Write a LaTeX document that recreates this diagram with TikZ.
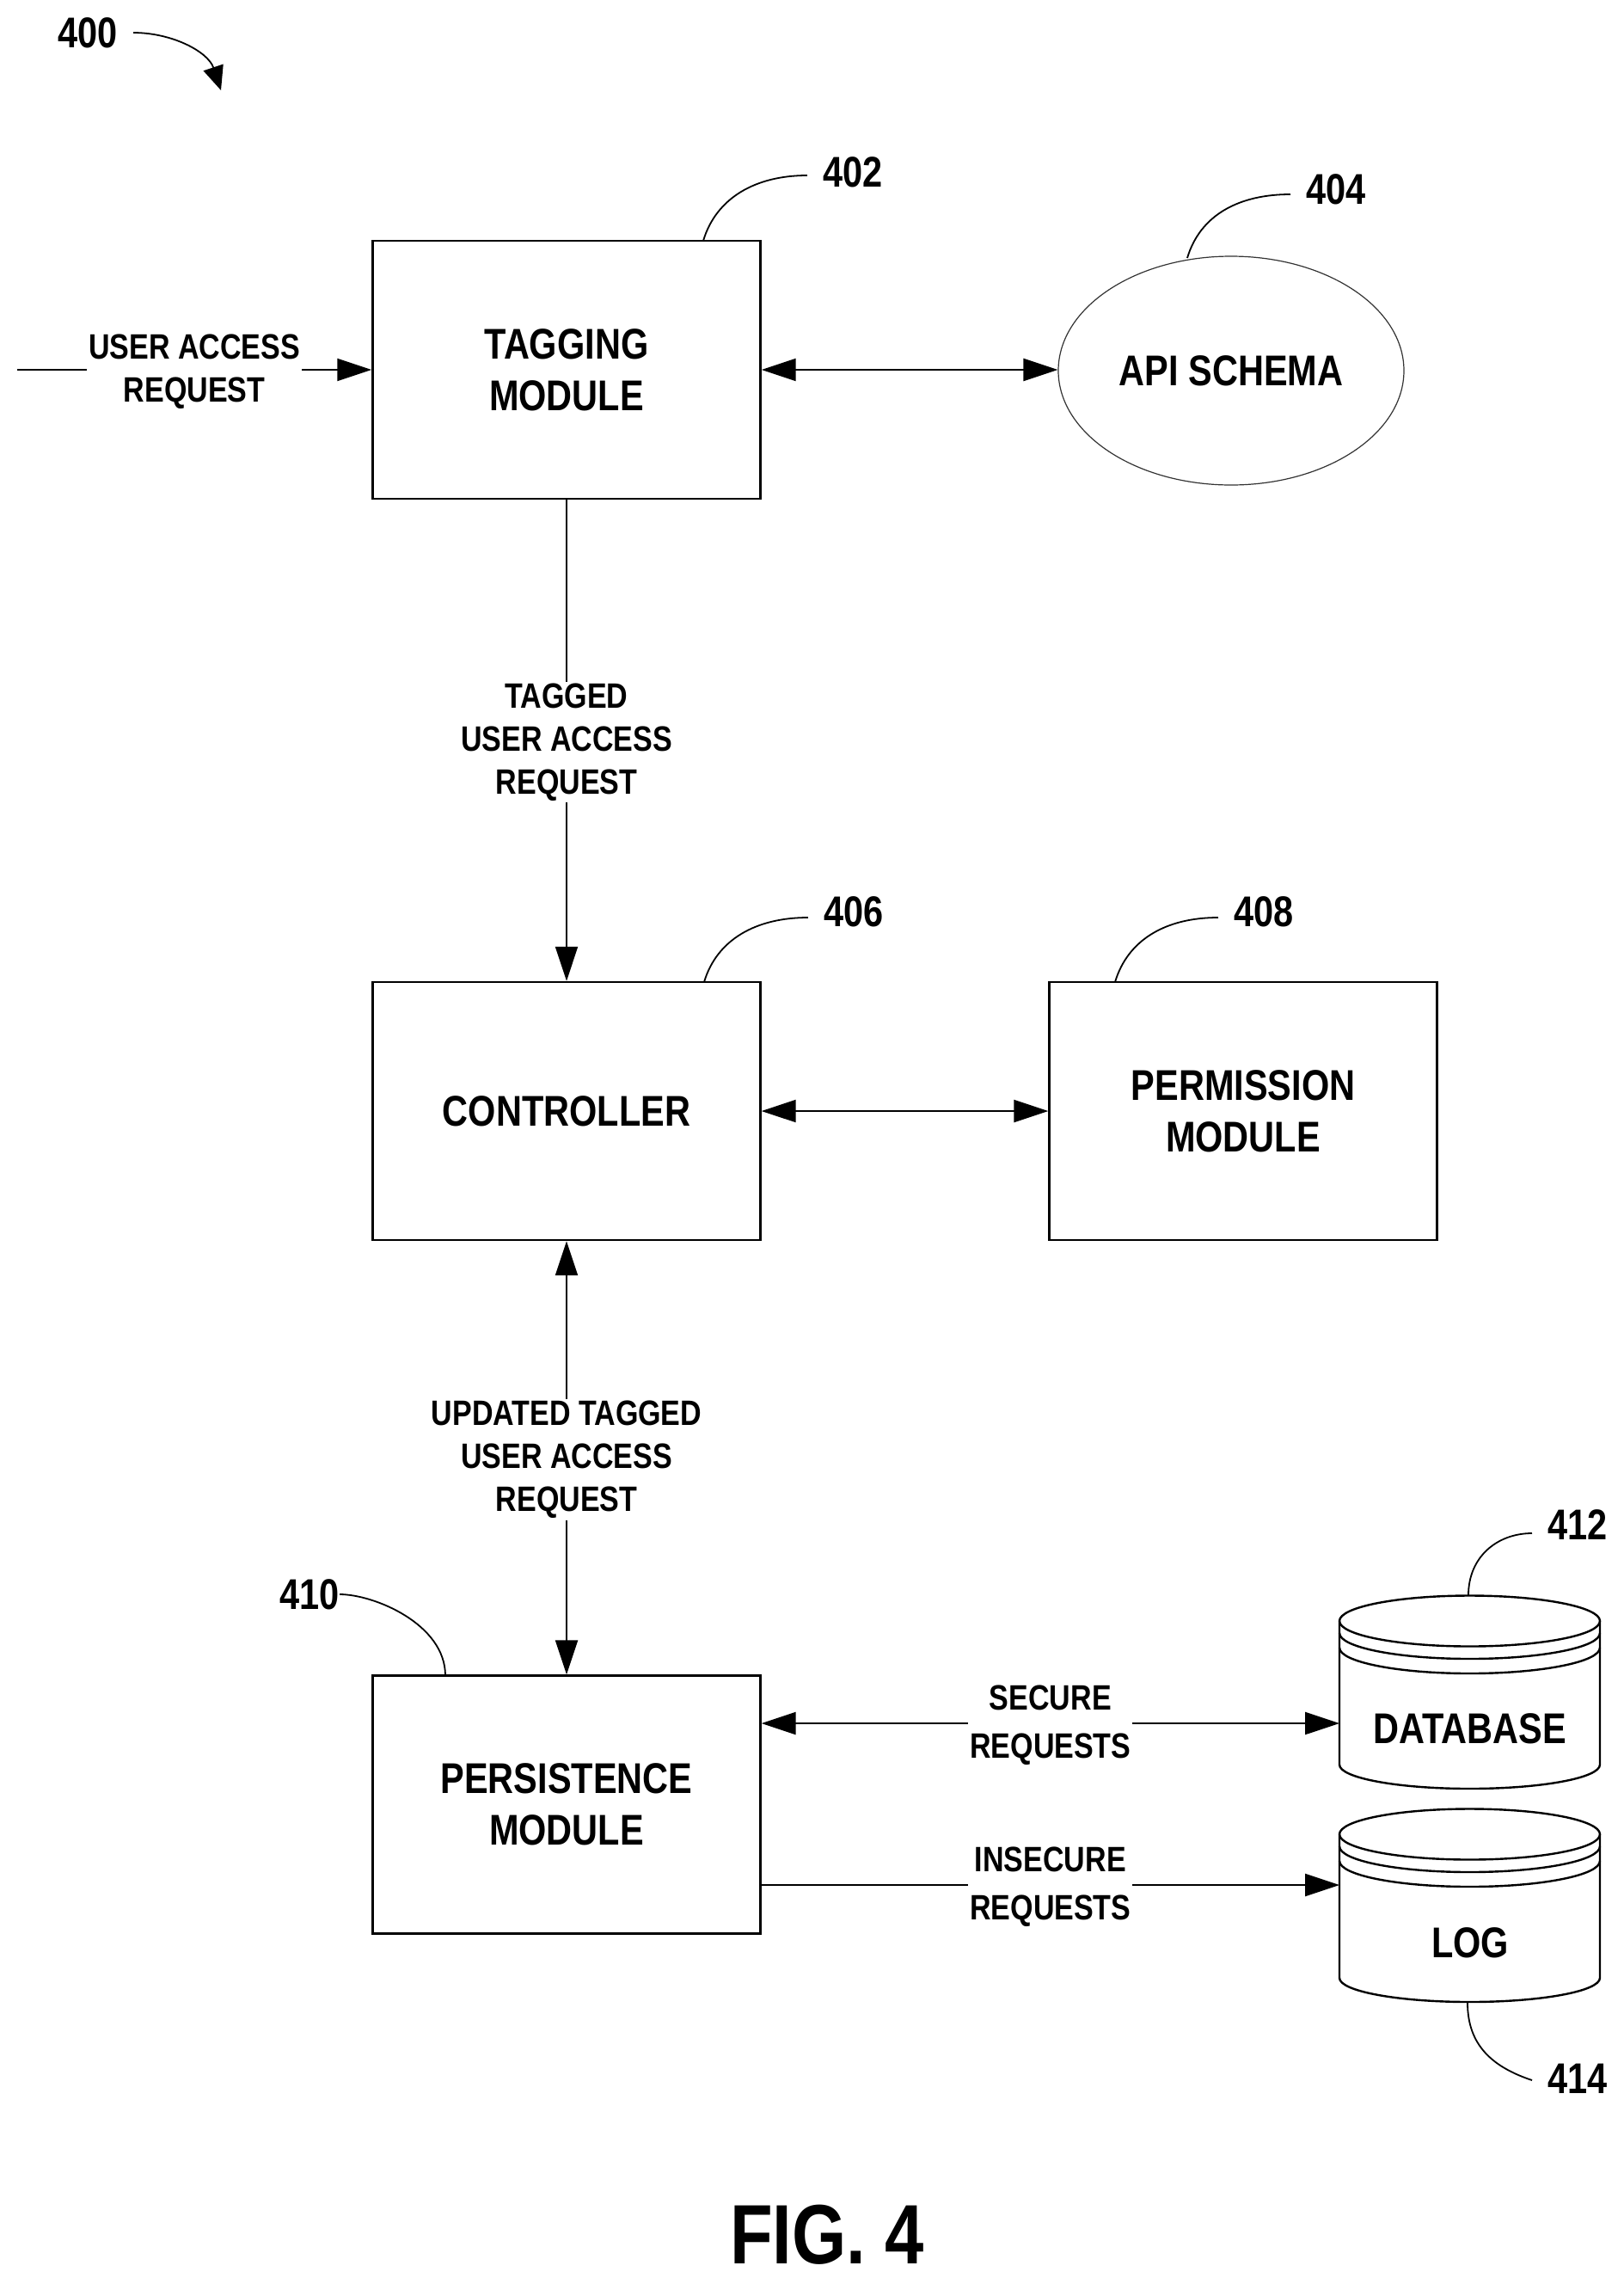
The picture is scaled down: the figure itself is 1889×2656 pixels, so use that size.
\documentclass[tikz,border=0pt]{standalone}
\usepackage{fontspec}
\setmainfont{Liberation Sans}[FakeStretch=0.83]
\usetikzlibrary{arrows.meta,shapes.geometric}

\tikzset{
    block/.style={draw, line width=1.2pt, minimum width=225.5pt, minimum height=150pt,
        align=center, font=\fontsize{25}{30}\selectfont\bfseries},
    flowlabel/.style={fill=white, align=center, inner sep=1pt, yshift=-1pt, font=\fontsize{20.5}{25}\selectfont\bfseries},
    sidelabel/.style={flowlabel, font=\fontsize{20.5}{28}\selectfont\bfseries},
    reflabel/.style={inner sep=9pt, font=\fontsize{25}{30}\selectfont\bfseries},
    lead/.style={line width=0.9pt},
    flow/.style={line width=1.1pt, -{Triangle[length=20pt,width=13pt]}},
    twoway/.style={line width=1.1pt, {Triangle[length=20pt,width=13pt]}-{Triangle[length=20pt,width=13pt]}},
}

% drum with its two rings, #1 is the top edge
\newcommand{\drum}[1]{
    \begin{scope}[shift={(0,#1)}, line width=1.2pt]
        \draw (1558,30) arc[start angle=180, end angle=-180, x radius=75.75pt, y radius=14.75pt];
        \draw (1558,30) -- (1558,197) arc[start angle=180, end angle=360, x radius=75.75pt, y radius=14pt] -- (1861,30);
        \draw (1558,44) arc[start angle=180, end angle=360, x radius=75.75pt, y radius=15pt];
        \draw (1558,61) arc[start angle=180, end angle=360, x radius=75.75pt, y radius=15pt];
    \end{scope}
}

\begin{document}
\begin{tikzpicture}[x=0.5pt, y=-0.5pt]
    \useasboundingbox (0,0) rectangle (1889,2656);

    \begin{scope}[every node/.style={block}]

        \node (tag) at (659,430) {TAGGING\\MODULE};
        \node (ctl) at (659,1292) {CONTROLLER};
        \node (perm) at (1446,1292) {PERMISSION\\MODULE};
        \node (pers) at (659,2098.5) {PERSISTENCE\\MODULE};

    \end{scope}
    \node[block, ellipse, draw=black!80, line width=0.6pt, minimum width=201pt, minimum height=133pt, inner sep=0pt] (schema) at (1432,431) {API SCHEMA};

    \drum{1855}
    \drum{2103}
    \node[block, draw=none, minimum width=0pt, minimum height=0pt] (db) at (1710,2010) {DATABASE};
    \node[block, draw=none, minimum width=0pt, minimum height=0pt] (log) at (1710,2259) {LOG};

    \coordinate (req) at (20,430);
    \coordinate (dbport) at (1558,2004);
    \coordinate (logport) at (1558,2192);
    \coordinate (tagleg) at (818,280);
    \coordinate (schemaleg) at (1381,300);
    \coordinate (ctlleg) at (819,1142);
    \coordinate (permleg) at (1297,1142);
    \coordinate (persleg) at (518,1948.5);
    \coordinate (dbleg) at (1708,1855);
    \coordinate (logleg) at (1707,2329);
    \coordinate (sysend) at (257,105);

    \path[flow] (req) edge node[flowlabel] {USER ACCESS\\REQUEST} (tag);
    \path[twoway] (tag) edge (schema.west |- tag);
    \path[flow] (tag) edge node[flowlabel] {TAGGED\\USER ACCESS\\REQUEST} (ctl);
    \path[twoway] (ctl) edge (perm);
    \path[twoway] (ctl) edge node[flowlabel] {UPDATED TAGGED\\USER ACCESS\\REQUEST} (pers);
    \path[twoway] (pers.east |- dbport) edge node[sidelabel] {SECURE\\REQUESTS} (dbport);
    \path[flow] (pers.east |- logport) edge node[sidelabel] {INSECURE\\REQUESTS} (logport);

    \node[reflabel] (n400) at (102,38) {400};
    \node[reflabel] (n402) at (992,200) {402};
    \node[reflabel] (n404) at (1554,220) {404};
    \node[reflabel] (n406) at (993,1060) {406};
    \node[reflabel] (n408) at (1470,1060) {408};
    \node[reflabel, inner sep=0pt] (n410) at (360,1854) {410};
    \node[reflabel] (n412) at (1835,1773) {412};
    \node[reflabel] (n414) at (1835,2417) {414};
    \node[inner sep=0pt, font=\fontsize{49}{55}\selectfont\bfseries] (fig) at (962,2599) {FIG. 4};

    \draw[lead] (tagleg) .. controls +(15,-50) and +(-60,0) .. ([yshift=-2pt]n402.west);
    \draw[lead] (schemaleg) .. controls +(15,-50) and +(-60,0) .. ([yshift=-3pt]n404.west);
    \draw[lead] (ctlleg) .. controls +(15,-50) and +(-60,0) .. ([yshift=-3.5pt]n406.west);
    \draw[lead] (permleg) .. controls +(15,-50) and +(-60,0) .. ([yshift=-3.5pt]n408.west);
    \draw[lead] (persleg) .. controls +(0,-60) and +(40,0) .. (n410.east);
    \draw[lead] (dbleg) .. controls +(0,-45) and +(-40,0) .. ([yshift=-5pt]n412.west);
    \draw[lead] (logleg) .. controls +(0,50) and +(-45,-15) .. ([yshift=-1pt]n414.west);
    \draw[line width=0.9pt, -{Triangle[length=14pt,width=12pt]}] (n400.east) .. controls +(45,0) and +(-15,-45) .. (sysend);

\end{tikzpicture}
\end{document}
